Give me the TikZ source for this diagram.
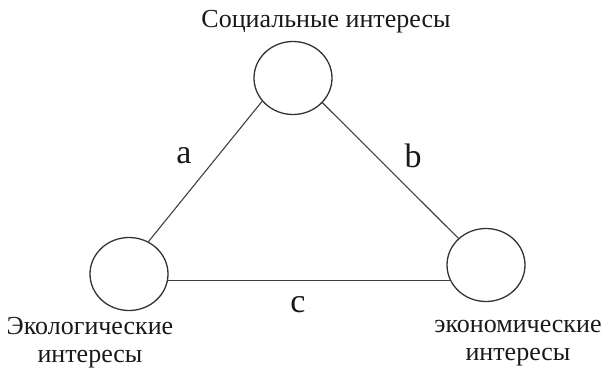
\documentclass[tikz,border=0pt]{standalone}
\usepackage{fontspec}
\setmainfont{Liberation Serif}
\usetikzlibrary{shapes.geometric}
\begin{document}
\begin{tikzpicture}[x=1pt,y=-1pt,
  circ/.style={draw=black!80,line width=1.3pt,shape=ellipse,minimum width=78pt,minimum height=73pt,inner sep=0pt},
  edge/.style={draw=black!75,line width=1.1pt},
  lbl/.style={font=\fontsize{26}{28}\selectfont,align=center,text=black!90,inner sep=0pt},
  elbl/.style={font=\fontsize{34}{36}\selectfont,text=black!90,inner sep=0pt}]
\useasboundingbox (0,0) rectangle (605,372);
\node[circ] (s) at (293,78) {};
\node[circ] (e) at (129,274) {};
\node[circ] (k) at (486,265) {};
\draw[edge] (s.217) -- (e.59);
\draw[edge] (s.320) -- (k.136);
\draw[edge] (e.351) -- (k.202 |- e.351);
\node[lbl] (ts) at (326,22) {Социальные интересы};
\node[lbl] (te) at (90,343) {Экологические\\интересы};
\node[lbl] (tk) at (518,343) {экономические\\интересы};
\node[elbl] (la) at (184,156) {a};
\node[elbl] (lb) at (413,156) {b};
\node[elbl] (lc) at (298,305) {c};
\end{tikzpicture}
\end{document}
